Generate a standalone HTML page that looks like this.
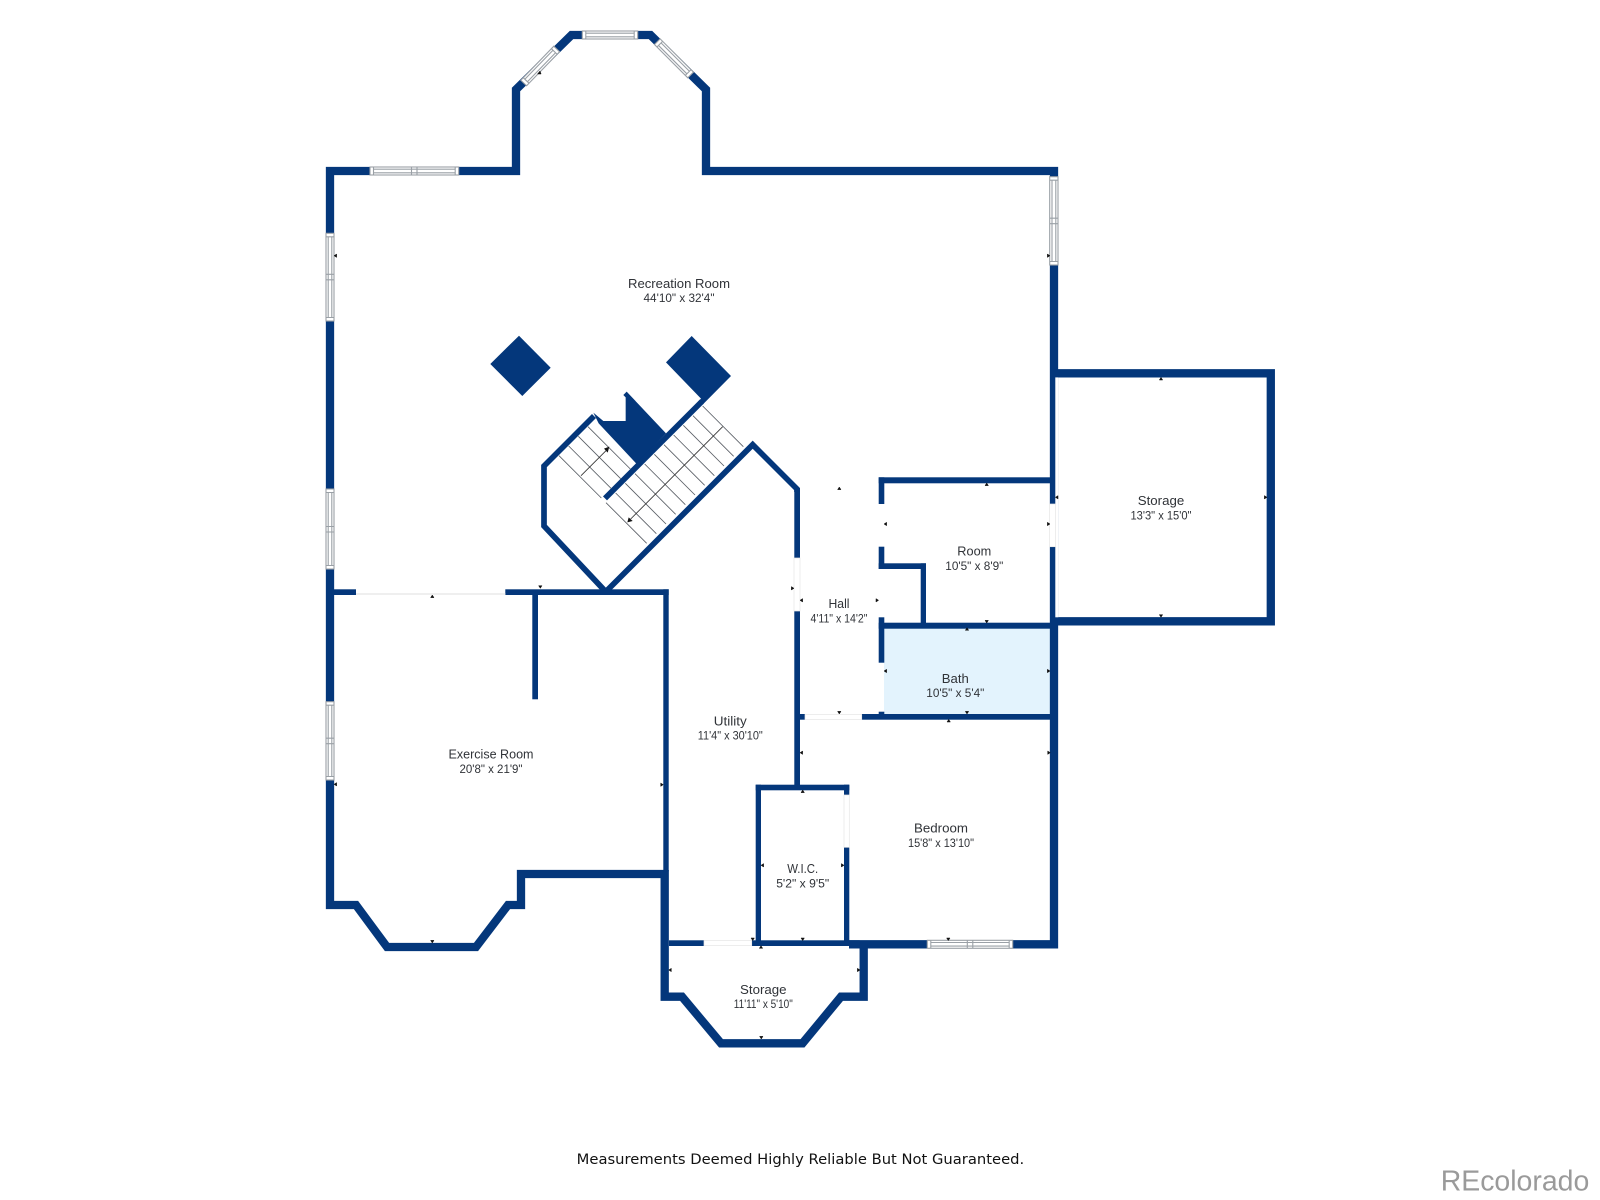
<!DOCTYPE html>
<html lang="en">
<head>
<meta charset="utf-8">
<title>Floor plan</title>
<style>
html,body{margin:0;padding:0;background:#fff}
svg{display:block}
.o{fill:none;stroke:#04377b;stroke-linejoin:miter;stroke-linecap:butt}
.f{fill:#04377b}
.l{font-family:"Liberation Sans",sans-serif;font-size:13.3px;fill:#303338;text-anchor:middle}
.l2{font-size:12.4px}
.wb{fill:#fff;stroke:#9aa0a6;stroke-width:1.1}
.wl{stroke:#9aa0a6;stroke-width:1.1;fill:none}
.d{fill:#fff;stroke:#e6e6e6;stroke-width:.7}
.t{fill:#111;stroke:#111;stroke-width:.5}
</style>
</head>
<body>
<svg xmlns="http://www.w3.org/2000/svg" width="1600" height="1200" viewBox="0 0 1600 1200">
<rect width="1600" height="1200" fill="#fff"/>

<!-- bath fill -->
<rect x="884" y="628" width="167" height="87" fill="#e3f3fd"/>

<!-- outer walls -->
<path class="o" stroke-width="8.3" d="M665,874 L521,874 L521,905 L508,905 L476,947 L387,947 L356,905 L330,905 L330,171 L516,171 L516,89.5 L571.5,35 L650.5,35 L706,89.5 L706,171 L1054,171 L1054,944.3 L849,944.3"/>
<path class="o" stroke-width="8.3" d="M1054,373.3 L1270.8,373.3 L1270.8,621.3 L1054,621.3"/>
<rect x="1055.3" y="377.4" width="3" height="239.9" fill="#fff"/>
<path class="o" stroke-width="8.3" d="M664.7,870 L664.7,996.7 L682,996.7 L721,1043.3 L802.5,1043.3 L841,996.7 L863.7,996.7 L863.7,944"/>

<!-- interior rects -->
<g class="f">
<rect x="663.3" y="589.3" width="5.4" height="282"/>
<rect x="334" y="589.3" width="22" height="5.7"/>
<rect x="505.3" y="589.3" width="163.4" height="5.7"/>
<rect x="532.3" y="595" width="5.7" height="104.3"/>
<rect x="794.3" y="488" width="5.7" height="70"/>
<rect x="794.3" y="611" width="5.7" height="175"/>
<rect x="755.7" y="784.7" width="5.3" height="161.3"/>
<rect x="755.7" y="784.7" width="93.6" height="5.6"/>
<rect x="844" y="784.7" width="5.3" height="10.3"/>
<rect x="844" y="847.3" width="5.3" height="98.7"/>
<rect x="751.7" y="940.3" width="108" height="5.7"/>
<rect x="669" y="940.3" width="35" height="5.7"/>
<rect x="878.7" y="477.3" width="172" height="6"/>
<rect x="878.7" y="477.3" width="5.6" height="26.7"/>
<rect x="878.7" y="546.7" width="5.6" height="22.3"/>
<rect x="878.7" y="563.3" width="47.3" height="5.7"/>
<rect x="920.7" y="563.3" width="5.3" height="60"/>
<rect x="878.7" y="622.7" width="172" height="6"/>
<rect x="878.7" y="617.3" width="5.6" height="45.4"/>
<rect x="878.7" y="711.7" width="5.6" height="3"/>
<rect x="861.7" y="714" width="189" height="5.7"/>
<rect x="800" y="714" width="5" height="5.7"/>
</g>

<!-- door openings -->
<rect x="356" y="593" width="149.3" height="2" fill="#efefef"/>
<rect x="1049.5" y="504" width="6" height="42.7" class="d"/>
<rect x="794" y="558" width="6" height="53" class="d"/>
<rect x="805" y="714.5" width="56.7" height="5" class="d"/>
<rect x="844" y="795" width="5.3" height="52.3" class="d"/>
<rect x="704" y="940.6" width="47.7" height="5" class="d"/>

<!-- diagonal walls -->
<path class="o" stroke-width="5.7" d="M797,492 L797,489 L752.7,444.7 L606,591.5"/>
<path class="o" stroke-width="5.7" d="M606,592 L544,526 L544,466 L594,416"/>

<!-- columns and stair block -->
<polygon class="f" points="519,335.7 550.7,367.7 522.3,396 490.3,364"/>
<g transform="translate(500,320) scale(.3333333)">
<polygon class="f" points="575,48 693,168 608,254 594,245 603,236 498,127"/>
<polygon class="f" points="280,278 310,303 377,303 377,232 370,225 380,215 498,340 410,432 296,310"/>
<path class="o" stroke-width="17" d="M315,535 L606,244"/>
<g fill="none" stroke="#5a5f66" stroke-width="2.6">
<path d="M608,258L730,380M579,287L701,409M550,316L672,438M521,345L643,467M492,374L614,496M463,403L585,525M434,432L556,554M405,461L527,583M376,490L498,612M347,519L469,641M318,548L440,670"/>
<path d="M177,407L304,534M206,378L333,505M235,349L362,476M264,320L391,447"/>
<path d="M668,320L392,597M243,467L318,392" stroke="#333"/>
</g>
<polygon points="382,607 398,603 386,592" fill="#111"/>
<polygon points="328,380 312,386 323,398" fill="#111"/>
</g>

<!-- windows: double -->
<g transform="translate(370,167)">
<rect class="wb" width="88.7" height="8"/>
<path class="wl" d="M3.5,0V8M85.2,0V8M3.5,2.2H85.2M3.5,5.8H85.2M41.5,0V8M47,0V8"/>
</g>
<g transform="translate(334,233.3) rotate(90)">
<rect class="wb" width="87.7" height="8"/>
<path class="wl" d="M3.5,0V8M84.2,0V8M3.5,2.2H84.2M3.5,5.8H84.2M41,0V8M46.5,0V8"/>
</g>
<g transform="translate(334,489) rotate(90)">
<rect class="wb" width="80" height="8"/>
<path class="wl" d="M3.5,0V8M76.5,0V8M3.5,2.2H76.5M3.5,5.8H76.5M37.5,0V8M43,0V8"/>
</g>
<g transform="translate(334,701.7) rotate(90)">
<rect class="wb" width="78.3" height="8"/>
<path class="wl" d="M3.5,0V8M74.8,0V8M3.5,2.2H74.8M3.5,5.8H74.8M36.5,0V8M42,0V8"/>
</g>
<g transform="translate(1058,176.7) rotate(90)">
<rect class="wb" width="88.3" height="8.3"/>
<path class="wl" d="M3.5,0V8.3M84.8,0V8.3M3.5,2.2H84.8M3.5,6H84.8M41.5,0V8.3M47,0V8.3"/>
</g>
<g transform="translate(927.3,940.3)">
<rect class="wb" width="85.4" height="8"/>
<path class="wl" d="M3.5,0V8M81.9,0V8M3.5,2.2H81.9M3.5,5.8H81.9M40,0V8M45.5,0V8"/>
</g>
<!-- windows: single -->
<g transform="translate(582.3,31)">
<rect class="wb" width="55.4" height="8"/>
<path class="wl" d="M3.5,0V8M51.9,0V8M3.5,2.2H51.9M3.5,5.8H51.9"/>
</g>
<g transform="translate(523.7,83) rotate(-45.9) translate(0,-4)">
<rect class="wb" width="47.4" height="8"/>
<path class="wl" d="M3.5,0V8M43.9,0V8M3.5,2.2H43.9M3.5,5.8H43.9"/>
</g>
<g transform="translate(657.3,41.7) rotate(45) translate(0,-4)">
<rect class="wb" width="47.1" height="8"/>
<path class="wl" d="M3.5,0V8M43.6,0V8M3.5,2.2H43.6M3.5,5.8H43.6"/>
</g>

<!-- measurement ticks -->
<path class="t" d="M839.3,487l1.7,2.6h-3.4zM986.7,483l1.7,2.6h-3.4zM967,627.7l1.7,2.6h-3.4zM948.7,719.4l1.7,2.6h-3.4zM1161,377.4l1.7,2.6h-3.4zM802.7,790l1.7,2.6h-3.4zM761,945.7l1.7,2.6h-3.4zM432.3,595l1.7,2.6h-3.4z"/>
<path class="t" d="M986.7,623l1.7,-2.6h-3.4zM967,714l1.7,-2.6h-3.4zM839.3,714l1.7,-2.6h-3.4zM1161,617.3l1.7,-2.6h-3.4zM802.7,940.6l1.7,-2.6h-3.4zM752.7,940.6l1.7,-2.6h-3.4zM761.3,1039l1.7,-2.6h-3.4zM948.3,940.6l1.7,-2.6h-3.4zM540.3,588.3l1.7,-2.6h-3.4zM432.3,943l1.7,-2.6h-3.4z"/>
<path class="t" d="M1055.4,497.3l2.6,-1.7v3.4zM884,524l2.6,-1.7v3.4zM800,600.3l2.6,-1.7v3.4zM884,671l2.6,-1.7v3.4zM800,752.7l2.6,-1.7v3.4zM761,865.3l2.6,-1.7v3.4zM668.7,970l2.6,-1.7v3.4zM334,784.3l2.6,-1.7v3.4zM334,255.7l2.6,-1.7v3.4z"/>
<path class="t" d="M1267,497.3l-2.6,-1.7v3.4zM1050,524l-2.6,-1.7v3.4zM878.6,600.3l-2.6,-1.7v3.4zM794,588.3l-2.6,-1.7v3.4zM1050,671l-2.6,-1.7v3.4zM1050.3,752.7l-2.6,-1.7v3.4zM844,865.3l-2.6,-1.7v3.4zM663.3,784.7l-2.6,-1.7v3.4zM860,970l-2.6,-1.7v3.4zM1050,255.7l-2.6,-1.7v3.4z"/>
<path class="t" d="M540,71l-2.5,3h3.6z"/>

<!-- labels -->
<g class="l">
<text x="679" y="288" textLength="102" lengthAdjust="spacingAndGlyphs">Recreation Room</text>
<text class="l2" x="679" y="302" textLength="71" lengthAdjust="spacingAndGlyphs">44'10" x 32'4"</text>
<text x="1161" y="505" textLength="46.5" lengthAdjust="spacingAndGlyphs">Storage</text>
<text class="l2" x="1161" y="519.5" textLength="61" lengthAdjust="spacingAndGlyphs">13'3" x 15'0"</text>
<text x="974.3" y="555.5" textLength="34" lengthAdjust="spacingAndGlyphs">Room</text>
<text class="l2" x="974.3" y="570" textLength="58" lengthAdjust="spacingAndGlyphs">10'5" x 8'9"</text>
<text x="839" y="608" textLength="21" lengthAdjust="spacingAndGlyphs">Hall</text>
<text class="l2" x="839" y="622.5" textLength="57" lengthAdjust="spacingAndGlyphs">4'11" x 14'2"</text>
<text x="955.3" y="682.8" textLength="27" lengthAdjust="spacingAndGlyphs">Bath</text>
<text class="l2" x="955.3" y="697" textLength="58" lengthAdjust="spacingAndGlyphs">10'5" x 5'4"</text>
<text x="491" y="758.5" textLength="85" lengthAdjust="spacingAndGlyphs">Exercise Room</text>
<text class="l2" x="491" y="773" textLength="63" lengthAdjust="spacingAndGlyphs">20'8" x 21'9"</text>
<text x="730.3" y="725.5" textLength="33" lengthAdjust="spacingAndGlyphs">Utility</text>
<text class="l2" x="730.3" y="739.5" textLength="65" lengthAdjust="spacingAndGlyphs">11'4" x 30'10"</text>
<text x="802.7" y="872.8" textLength="31" lengthAdjust="spacingAndGlyphs">W.I.C.</text>
<text class="l2" x="802.7" y="887.5" textLength="53" lengthAdjust="spacingAndGlyphs">5'2" x 9'5"</text>
<text x="941" y="832.5" textLength="54" lengthAdjust="spacingAndGlyphs">Bedroom</text>
<text class="l2" x="941" y="847" textLength="66" lengthAdjust="spacingAndGlyphs">15'8" x 13'10"</text>
<text x="763.3" y="993.8" textLength="46.5" lengthAdjust="spacingAndGlyphs">Storage</text>
<text class="l2" x="763.3" y="1008" textLength="59" lengthAdjust="spacingAndGlyphs">11'11" x 5'10"</text>
</g>

<text x="576.7" y="1164" font-family="'DejaVu Sans',sans-serif" font-size="14.5" fill="#111" textLength="447.5" lengthAdjust="spacingAndGlyphs">Measurements Deemed Highly Reliable But Not Guaranteed.</text>
<text x="1440.7" y="1190.7" font-family="'Liberation Sans',sans-serif" font-size="28.5" fill="#9a9a9a" textLength="148.6" lengthAdjust="spacingAndGlyphs">REcolorado</text>
</svg>
</body>
</html>
